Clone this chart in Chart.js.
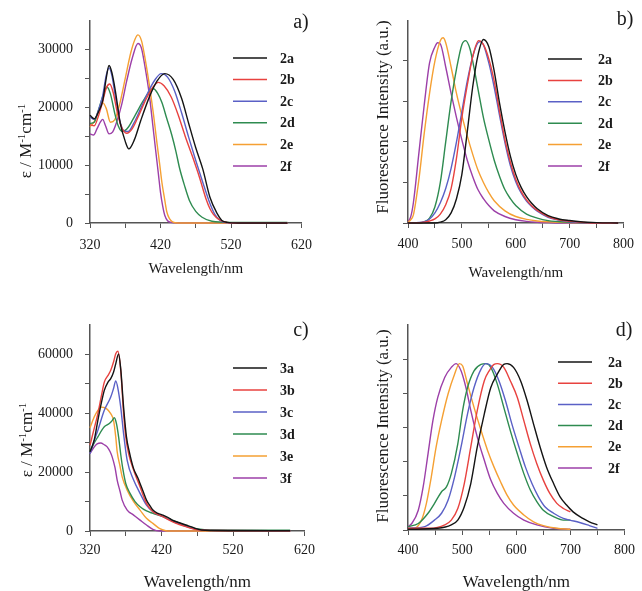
<!DOCTYPE html>
<html>
<head>
<meta charset="utf-8">
<script src="https://cdn.jsdelivr.net/npm/chart.js@4"></script>
<style>
html, body { margin: 0; padding: 0; background: #fff; overflow: hidden; }
#wrap { position: relative; width: 642px; height: 591px; }
canvas { position: absolute; }
</style>
</head>
<body>
<div id="wrap">
  <canvas id="pa" width="321" height="295" style="left:0;top:0"></canvas>
  <canvas id="pb" width="321" height="295" style="left:321px;top:0"></canvas>
  <canvas id="pc" width="321" height="305" style="left:0;top:295px"></canvas>
  <canvas id="pd" width="321" height="305" style="left:321px;top:295px"></canvas>
</div>
<script>
// ---- series names ----
const names2 = ['2a', '2b', '2c', '2d', '2e', '2f'];
const names3 = ['3a', '3b', '3c', '3d', '3e', '3f'];

// ---- tick values ----
const absXTicks = [320, 370, 420, 470, 520, 570, 620];
const absXLabels = [320, 420, 520, 620];
const emXTicks = [400, 450, 500, 550, 600, 650, 700, 750, 800];
const emXLabels = [400, 500, 600, 700, 800];
const absAYTicks = [0, 5000, 10000, 15000, 20000, 25000, 30000];
const absAYLabels = [0, 10000, 20000, 30000];
const absCYTicks = [0, 10000, 20000, 30000, 40000, 50000, 60000];
const absCYLabels = [0, 20000, 40000, 60000];
const emBYTicks = [0, 1, 2, 3, 4];
const emDYTicks = [0, 1, 2, 3, 4, 5];

// ---- a) absorption, 2a-2f  [nm, epsilon] ----
const absA2a = [[320,18600],[326,18000],[332,19200],[338,21100],[343,25000],[347,27200],[351,26000],[356,22800],[363,17200],[370,14100],[375,12800],[383,14400],[392,17700],[404,21700],[415,24500],[426,25800],[438,24800],[450,21500],[460,17200],[470,13000],[480,9300],[490,4500],[500,1700],[507,450],[515,100],[530,0],[600,0]];
const absA2b = [[320,17000],[326,16800],[332,18500],[338,21000],[343,23300],[348,24000],[353,22500],[358,19500],[364,16800],[372,15500],[380,16300],[390,18800],[400,21500],[410,23600],[417,24300],[425,23700],[435,21800],[445,18700],[455,15000],[465,11600],[475,8000],[485,4000],[490,2500],[495,1500],[503,600],[512,150],[525,0],[600,0]];
const absA2c = [[320,18300],[326,17900],[332,19500],[338,22000],[343,25500],[347,26800],[351,25500],[356,21800],[362,17800],[368,15900],[374,15800],[382,17200],[392,19800],[402,22500],[412,24700],[421,25800],[430,25200],[440,22800],[450,19000],[460,14800],[470,10800],[480,7000],[490,3400],[497,1500],[505,400],[515,50],[530,0],[600,0]];
const absA2d = [[320,17200],[326,17400],[332,19500],[338,21800],[344,23500],[349,22300],[355,19000],[360,16800],[366,15800],[374,16500],[384,18600],[395,21000],[404,22700],[410,23200],[416,22400],[422,20800],[429,18000],[436,15200],[442,12300],[447,9500],[454,6500],[461,3900],[470,2000],[479,1000],[493,300],[520,100],[600,80]];
const absA2e = [[320,16600],[326,17500],[332,19300],[338,20800],[343,19800],[349,17400],[355,17800],[362,20500],[370,25000],[378,29500],[384,31800],[388,32500],[393,31500],[398,28500],[404,24000],[410,18800],[415,13800],[419,10000],[422,7000],[426,4000],[429,1900],[433,700],[437,200],[445,0],[600,0]];
const absA2f = [[320,15400],[325,15200],[330,16300],[335,17500],[338,17900],[342,16800],[347,15400],[352,15700],[358,17500],[365,20500],[372,24500],[380,28500],[388,31000],[393,30200],[398,27000],[404,22300],[409,17000],[413,12700],[417,8500],[420,5300],[423,3000],[426,1350],[430,400],[435,100],[445,0],[600,0]];

// ---- b) fluorescence, 2a-2f  [nm, a.u.] ----
const emB2a = [[400,0],[450,0],[460,0.02],[470,0.08],[480,0.25],[490,0.6],[500,1.2],[510,2.25],[520,3.35],[530,4.15],[540,4.53],[550,4.35],[560,3.75],[570,2.95],[580,2.25],[590,1.65],[600,1.2],[610,0.88],[620,0.65],[630,0.48],[640,0.35],[660,0.18],[680,0.1],[700,0.06],[720,0.03],[750,0.01],[790,0]];
const emB2b = [[400,0],[430,0.02],[440,0.05],[450,0.1],[460,0.22],[470,0.45],[480,0.85],[490,1.6],[500,2.6],[510,3.4],[520,4.1],[531,4.5],[540,4.4],[550,4.05],[560,3.5],[570,2.75],[580,2.05],[590,1.5],[600,1.08],[610,0.78],[620,0.57],[630,0.42],[640,0.31],[660,0.16],[680,0.08],[700,0.04],[720,0.02],[750,0],[790,0]];
const emB2c = [[400,0],[430,0.03],[440,0.1],[450,0.25],[460,0.5],[470,0.85],[480,1.35],[490,2.0],[500,2.75],[510,3.5],[520,4.1],[530,4.45],[535,4.48],[540,4.4],[550,3.95],[560,3.35],[570,2.65],[580,1.98],[590,1.42],[600,1.02],[610,0.74],[620,0.54],[630,0.4],[640,0.29],[660,0.14],[680,0.07],[700,0.03],[750,0],[790,0]];
const emB2d = [[400,0],[420,0],[430,0.03],[440,0.12],[450,0.4],[460,1.0],[470,2.0],[480,3.0],[490,3.8],[500,4.4],[507,4.5],[515,4.3],[520,4.0],[530,3.3],[540,2.6],[550,2.05],[560,1.55],[570,1.15],[580,0.82],[590,0.6],[600,0.43],[620,0.22],[640,0.12],[660,0.06],[700,0.02],[750,0],[790,0]];
const emB2e = [[400,0.02],[405,0.08],[410,0.2],[420,1.05],[430,2.2],[440,3.2],[450,4.0],[460,4.5],[465,4.57],[470,4.45],[480,3.85],[490,3.2],[500,2.65],[510,2.15],[520,1.7],[530,1.3],[540,1.0],[550,0.75],[560,0.55],[580,0.3],[600,0.16],[620,0.09],[640,0.05],[660,0.03],[700,0.01],[790,0]];
const emB2f = [[400,0.03],[405,0.15],[410,0.5],[420,1.7],[430,2.9],[440,3.95],[450,4.35],[455,4.45],[460,4.42],[470,3.85],[480,3.2],[490,2.6],[500,2.05],[510,1.55],[520,1.15],[530,0.82],[540,0.6],[550,0.43],[560,0.3],[580,0.16],[600,0.08],[620,0.04],[640,0.02],[660,0.01],[680,0],[790,0]];

// ---- c) absorption, 3a-3f  [nm, epsilon] ----
const absC3a = [[320,26900],[326,31000],[331,37600],[335,42500],[340,47800],[345,50500],[349,51750],[353,54000],[356,56800],[360,60200],[363,55000],[367,42000],[371,32000],[375,26900],[381,21200],[387,18000],[390,16150],[395,13000],[399,10500],[404,8500],[408,7100],[415,6000],[422,5400],[430,4500],[435,3700],[445,2800],[454,2030],[463,1300],[467,900],[476,340],[490,150],[520,100],[600,80]];
const absC3b = [[320,29150],[325,34000],[331,39900],[336,46000],[340,50600],[345,52800],[349,54600],[353,57500],[356,60200],[359,61100],[363,54600],[367,39900],[370,32000],[374,26300],[381,20700],[390,15000],[399,9400],[408,6550],[415,5600],[422,4860],[435,3160],[445,2200],[454,1470],[467,565],[480,300],[500,150],[600,80]];
const absC3c = [[320,26300],[325,30000],[331,34200],[340,41000],[349,45500],[353,48500],[356,51000],[359,48500],[363,42000],[367,33000],[372,24000],[381,17300],[390,12800],[399,8800],[408,6550],[415,5600],[422,4900],[435,3400],[445,2400],[454,1600],[467,700],[480,300],[500,150],[600,80]];
const absC3d = [[320,26900],[325,29500],[331,32000],[340,35400],[347,36500],[351,37500],[354,38500],[357,36500],[360,32000],[363,26000],[366,21000],[370,16150],[376,12800],[383,10000],[390,8250],[399,6800],[408,6000],[422,4860],[440,3160],[454,1800],[467,900],[480,450],[500,350],[600,300]];
const absC3e = [[320,35100],[326,38800],[331,41000],[335,42100],[339,42000],[343,41600],[349,39900],[353,37500],[356,32000],[358,27000],[362,22000],[365,18400],[372,13900],[381,9950],[390,7100],[399,4300],[408,2600],[417,900],[426,100],[432,0],[600,0]];
const absC3f = [[320,26300],[326,28600],[330,29600],[335,29900],[340,29300],[344,28600],[348,27000],[351,25200],[355,21500],[358,17300],[362,13500],[365,10500],[372,7100],[381,5400],[390,3700],[399,2030],[408,565],[417,0],[600,0]];

// ---- d) fluorescence, 2a-2f  [nm, a.u.] ----
const emD2a = [[400,0.02],[455,0.05],[480,0.15],[492,0.29],[504,0.68],[516,1.36],[528,2.43],[541,3.4],[553,4.17],[565,4.56],[577,4.85],[583,4.87],[595,4.76],[608,4.37],[620,3.79],[632,3.1],[644,2.43],[656,1.84],[669,1.36],[681,0.97],[693,0.73],[705,0.53],[723,0.34],[735,0.24],[750,0.15]];
const emD2b = [[400,0.05],[440,0.05],[468,0.15],[480,0.29],[492,0.63],[504,1.36],[516,2.43],[528,3.5],[541,4.37],[550,4.66],[559,4.85],[565,4.87],[577,4.76],[589,4.37],[602,3.88],[614,3.2],[626,2.52],[638,1.94],[650,1.46],[662,1.07],[675,0.78],[687,0.63],[700,0.53]];
const emD2c = [[400,0.05],[431,0.1],[449,0.29],[462,0.49],[474,0.87],[486,1.55],[498,2.43],[510,3.4],[522,4.17],[535,4.71],[544,4.87],[556,4.76],[568,4.37],[580,3.79],[592,3.1],[605,2.43],[617,1.84],[629,1.36],[641,0.97],[653,0.68],[669,0.49],[687,0.34],[699,0.29],[717,0.22],[735,0.13],[750,0.05]];
const emD2d = [[400,0.1],[419,0.19],[437,0.49],[449,0.78],[462,1.12],[471,1.26],[480,1.65],[492,2.52],[501,3.5],[510,4.17],[522,4.66],[535,4.85],[544,4.87],[553,4.76],[565,4.27],[577,3.59],[589,2.91],[602,2.23],[614,1.65],[626,1.17],[638,0.83],[650,0.58],[669,0.39],[687,0.29],[700,0.29]];
const emD2e = [[400,0.02],[413,0.05],[425,0.29],[434,0.78],[443,1.55],[452,2.43],[462,3.2],[474,3.98],[486,4.56],[495,4.87],[501,4.8],[510,4.27],[522,3.59],[535,2.91],[547,2.33],[559,1.84],[571,1.41],[583,1.02],[595,0.73],[614,0.44],[632,0.24],[650,0.13],[675,0.05],[700,0.02]];
const emD2f = [[400,0.1],[407,0.19],[419,0.58],[428,1.26],[437,2.23],[446,3.2],[455,3.88],[468,4.47],[480,4.76],[489,4.87],[498,4.66],[507,4.17],[516,3.5],[528,2.72],[541,2.04],[553,1.46],[565,1.07],[577,0.78],[595,0.49],[614,0.29],[638,0.15],[669,0.05],[700,0.02]];

// line colours for a..f
const lineColors = ['#141414', '#e8423f', '#5a60c6', '#2e8b50', '#f5a033', '#9c3fa8'];
const SERIF = '"Liberation Serif", "Times New Roman", serif';
const INK = '#1a1a1a';
const AXIS = '#555';

// draws panel letter, legend and the rotated y title
const decor = {
  id: 'decor',
  afterDraw(chart, args, o) {
    const ctx = chart.ctx;
    ctx.save();
    ctx.fillStyle = INK;

    ctx.font = '20px ' + SERIF;
    ctx.textAlign = 'center';
    ctx.textBaseline = 'middle';
    ctx.fillText(o.letter, o.letterX, o.letterY);

    // legend
    ctx.font = 'bold 14px ' + SERIF;
    ctx.textAlign = 'left';
    chart.data.datasets.forEach((ds, i) => {
      const y = o.legY + i * o.legDy;
      ctx.strokeStyle = ds.borderColor;
      ctx.lineWidth = 1.5;
      ctx.beginPath();
      ctx.moveTo(o.legX1, y);
      ctx.lineTo(o.legX2, y);
      ctx.stroke();
      ctx.fillText(ds.label, o.legTextX, y + 1);
    });

    // y title, rotated
    ctx.translate(o.yTitleX, o.yTitleY);
    ctx.rotate(-Math.PI / 2);
    const mainFont = '17px ' + SERIF;
    const supFont = '11px ' + SERIF;
    let total = 0;
    o.yTitle.forEach(p => {
      ctx.font = p.sup ? supFont : mainFont;
      total += ctx.measureText(p.t).width;
    });
    let x = -total / 2;
    ctx.textAlign = 'left';
    o.yTitle.forEach(p => {
      ctx.font = p.sup ? supFont : mainFont;
      ctx.fillText(p.t, x, p.sup ? -5 : 0);
      x += ctx.measureText(p.t).width;
    });
    ctx.restore();
  }
};

function makePanel(id, p) {
  const canvas = document.getElementById(id);
  const w = canvas.width, h = canvas.height;
  new Chart(canvas, {
    type: 'line',
    data: {
      datasets: p.series.map((s, i) => ({
        label: p.names[i],
        data: s,
        borderColor: lineColors[i],
        borderWidth: 1.4,
        pointRadius: 0,
        cubicInterpolationMode: 'monotone',
        fill: false,
        clip: false
      }))
    },
    options: {
      responsive: false,
      animation: false,
      events: [],
      layout: { padding: { left: 0, top: p.box.top, right: w - p.box.right, bottom: 0 } },
      plugins: {
        legend: { display: false },
        tooltip: { enabled: false },
        decor: p.decor
      },
      scales: {
        x: {
          type: 'linear',
          min: p.xMin, max: p.xMax,
          afterBuildTicks: s => { s.ticks = p.xTicks.map(v => ({ value: v })); },
          afterFit: s => { s.height = h - p.box.bottom; },
          ticks: {
            autoSkip: false, maxRotation: 0, padding: p.xTickPad,
            color: INK, font: { family: SERIF, size: 14 },
            callback: v => p.xLabels.includes(v) ? String(v) : ''
          },
          grid: { drawOnChartArea: false, drawTicks: true, tickLength: 5, color: AXIS },
          border: { display: true, color: AXIS, width: 1.5 },
          title: {
            display: true, text: 'Wavelength/nm', color: INK,
            font: { family: SERIF, size: p.xTitleSize },
            padding: { top: 0, bottom: p.xTitlePad }
          }
        },
        y: {
          type: 'linear',
          min: p.yMin, max: p.yMax,
          afterBuildTicks: s => { s.ticks = p.yTicks.map(v => ({ value: v })); },
          afterFit: s => { s.width = p.box.left; },
          ticks: {
            autoSkip: false, padding: 12,
            color: INK, font: { family: SERIF, size: 14 },
            callback: v => p.yLabels.includes(v) ? String(v) : ''
          },
          grid: { drawOnChartArea: false, drawTicks: true, tickLength: 5, color: AXIS },
          border: { display: true, color: AXIS, width: 1.5 }
        }
      }
    },
    plugins: [decor]
  });
}

const epsTitle = [{ t: 'ε / M' }, { t: '-1', sup: true }, { t: 'cm' }, { t: '-1', sup: true }];
const fluoTitle = [{ t: 'Fluorescence Intensity (a.u.)' }];

makePanel('pa', {
  box: { left: 90, top: 17, right: 310, bottom: 223 },
  series: [absA2a, absA2b, absA2c, absA2d, absA2e, absA2f], names: names2,
  xMin: 320, xMax: 620, xTicks: absXTicks, xLabels: absXLabels,
  yMin: 0, yMax: 35000, yTicks: absAYTicks, yLabels: absAYLabels,
  xTickPad: 9, xTitleSize: 15, xTitlePad: 17,
  decor: { letter: 'a)', letterX: 301, letterY: 23, legX1: 233, legX2: 267, legTextX: 280, legY: 58, legDy: 21.6,
           yTitle: epsTitle, yTitleX: 27, yTitleY: 141 }
});

makePanel('pb', {
  box: { left: 87, top: 17, right: 306, bottom: 223 },
  series: [emB2a, emB2b, emB2c, emB2d, emB2e, emB2f], names: names2,
  xMin: 400, xMax: 800, xTicks: emXTicks, xLabels: emXLabels,
  yMin: 0, yMax: 5, yTicks: emBYTicks, yLabels: [],
  xTickPad: 8, xTitleSize: 15, xTitlePad: 13,
  decor: { letter: 'b)', letterX: 304, letterY: 20, legX1: 227, legX2: 261, legTextX: 277, legY: 59, legDy: 21.4,
           yTitle: fluoTitle, yTitleX: 63, yTitleY: 117 }
});

makePanel('pc', {
  box: { left: 90, top: 30, right: 310, bottom: 236 },
  series: [absC3a, absC3b, absC3c, absC3d, absC3e, absC3f], names: names3,
  xMin: 320, xMax: 620, xTicks: absXTicks, xLabels: absXLabels,
  yMin: 0, yMax: 70000, yTicks: absCYTicks, yLabels: absCYLabels,
  xTickPad: 6, xTitleSize: 17, xTitlePad: 7,
  decor: { letter: 'c)', letterX: 301, letterY: 36, legX1: 233, legX2: 267, legTextX: 280, legY: 73, legDy: 22,
           yTitle: epsTitle, yTitleX: 28, yTitleY: 145 }
});

makePanel('pd', {
  box: { left: 87, top: 30, right: 306, bottom: 235 },
  series: [emD2a, emD2b, emD2c, emD2d, emD2e, emD2f], names: names2,
  xMin: 400, xMax: 800, xTicks: emXTicks, xLabels: emXLabels,
  yMin: 0, yMax: 6, yTicks: emDYTicks, yLabels: [],
  xTickPad: 7, xTitleSize: 17, xTitlePad: 7,
  decor: { letter: 'd)', letterX: 303, letterY: 36, legX1: 237, legX2: 271, legTextX: 287, legY: 67, legDy: 21.2,
           yTitle: fluoTitle, yTitleX: 63, yTitleY: 131 }
});
</script>
</body>
</html>
